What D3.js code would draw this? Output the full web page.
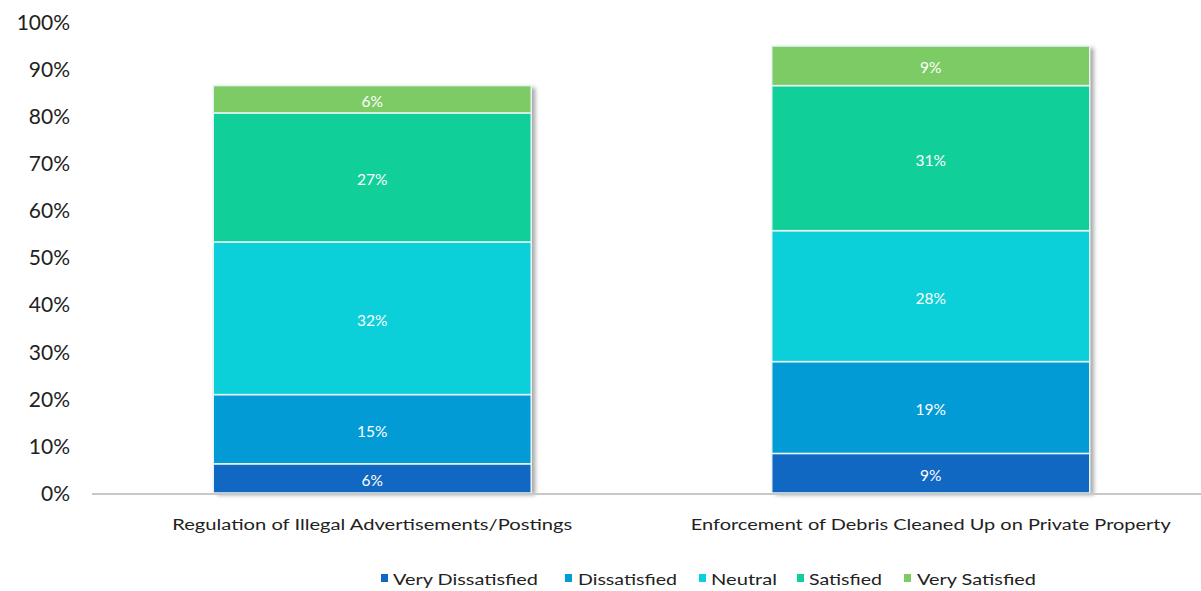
<!DOCTYPE html>
<html>
<head>
<meta charset="utf-8">
<script src="https://cdn.jsdelivr.net/npm/d3@7"></script>
<style>
html,body{margin:0;padding:0;background:#fff;}
svg{display:block;font-family:Lato, "Open Sans", sans-serif;}
</style>
</head>
<body>
<svg id="chart" width="1201" height="591"></svg>
<script>
const categories = ["Regulation of Illegal Advertisements/Postings", "Enforcement of Debris Cleaned Up on Private Property"];
const seriesNames = ["Very Dissatisfied", "Dissatisfied", "Neutral", "Satisfied", "Very Satisfied"];
const veryDissatisfied = [6.2, 8.4];
const dissatisfied = [14.7, 19.5];
const neutral = [32.4, 27.8];
const satisfied = [27.4, 30.8];
const verySatisfied = [5.8, 8.4];
const dataLabels = [["6%", "15%", "32%", "27%", "6%"], ["9%", "19%", "28%", "31%", "9%"]];
const yTicks = [0, 10, 20, 30, 40, 50, 60, 70, 80, 90, 100];
const colors = ["#1168c2", "#039bd6", "#0bcfd9", "#11cf98", "#7dcb65"];

const svg = d3.select("#chart");

const seriesValues = [veryDissatisfied, dissatisfied, neutral, satisfied, verySatisfied];
const table = categories.map((c, i) => {
  const row = {cat: c, idx: i};
  seriesNames.forEach((s, j) => row[s] = seriesValues[j][i]);
  return row;
});
const stacked = d3.stack().keys(seriesNames)(table);

const x = d3.scaleBand().domain(categories).range([93, 1210]).paddingInner(0.4306).paddingOuter(0.2153);
const y = d3.scaleLinear().domain([0, 100]).range([493, 22]);

const defs = svg.append("defs");
const f = defs.append("filter").attr("id", "shadow").attr("x", "-5%").attr("y", "-5%").attr("width", "115%").attr("height", "115%");
f.append("feDropShadow").attr("dx", 4).attr("dy", 2).attr("stdDeviation", 2).attr("flood-color", "#000").attr("flood-opacity", 0.35);

// y axis labels
const yAxis = d3.axisLeft(y).tickValues(yTicks).tickSize(0).tickPadding(0).tickFormat(d => d + "%");
const gy = svg.append("g").attr("transform", "translate(70,0)").call(yAxis);
gy.select(".domain").remove();
gy.selectAll("text").attr("font-size", 21).attr("fill", "#222").attr("font-family", "Lato, sans-serif").attr("dy", "0.35em");

// bar shadows
const barsG = svg.append("g");
categories.forEach((c, i) => {
  const top = d3.sum(seriesValues, s => s[i]);
  barsG.append("rect")
    .attr("x", x(c)).attr("width", x.bandwidth())
    .attr("y", y(top)).attr("height", y(0) - y(top))
    .attr("fill", "#fff").attr("filter", "url(#shadow)");
});

const layers = svg.append("g").selectAll("g").data(stacked).join("g")
  .attr("fill", (d, i) => colors[i]);
layers.selectAll("rect").data(d => d).join("rect")
  .attr("x", d => x(d.data.cat))
  .attr("width", x.bandwidth())
  .attr("y", d => y(d[1]))
  .attr("height", d => y(d[0]) - y(d[1]))
  .attr("stroke", "#e6f4f4").attr("stroke-width", 1.5);

// data labels
stacked.forEach((layer, j) => {
  layer.forEach((d, i) => {
    svg.append("text")
      .attr("x", x(d.data.cat) + x.bandwidth() / 2)
      .attr("y", (y(d[0]) + y(d[1])) / 2 + 2)
      .attr("text-anchor", "middle").attr("dy", "0.35em")
      .attr("fill", "#fff").attr("font-size", 15.5)
      .text(dataLabels[i][j]);
  });
});

// x axis
const xAxis = d3.axisBottom(x).tickSize(0).tickPadding(0);
const gx = svg.append("g").attr("transform", "translate(0,494)").call(xAxis);
gx.select(".domain").attr("stroke", "#c8c8c8").attr("stroke-width", 2).attr("d", "M92,0H1201");
gx.selectAll("text").attr("font-size", 15.5).attr("fill", "#222").attr("font-family", "Lato, sans-serif")
  .attr("y", 31).attr("dy", "0.35em")
  .attr("textLength", (d, i) => i === 0 ? 400 : 480).attr("lengthAdjust", "spacingAndGlyphs");

// legend
const legendPos = [[381, 393, 145], [565, 578, 99], [699, 711, 66], [797, 809, 73], [904, 917, 119]];
const lg = svg.append("g");
seriesNames.forEach((s, i) => {
  const p = legendPos[i];
  lg.append("rect").attr("x", p[0]).attr("y", 574).attr("width", 7).attr("height", 8).attr("fill", colors[i]);
  lg.append("text").attr("x", p[1]).attr("y", 579).attr("dy", "0.35em")
    .attr("font-size", 16).attr("fill", "#222")
    .attr("textLength", p[2]).attr("lengthAdjust", "spacingAndGlyphs")
    .text(s);
});
</script>
</body>
</html>
